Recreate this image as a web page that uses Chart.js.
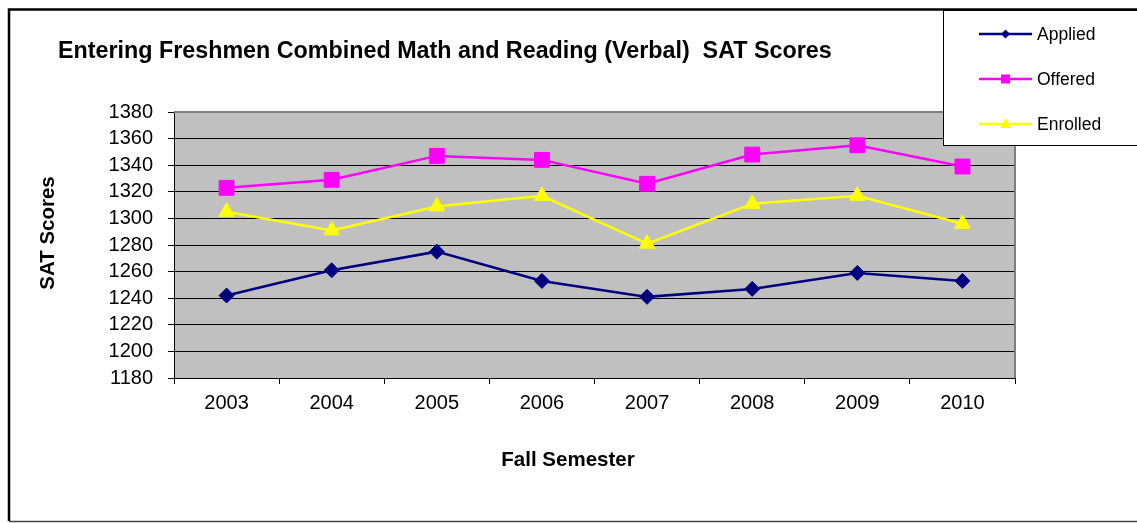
<!DOCTYPE html>
<html><head><meta charset="utf-8">
<script src="https://cdn.jsdelivr.net/npm/chart.js@4/dist/chart.umd.min.js"></script>
<style>html,body{margin:0;padding:0;background:#fff;}#wrap{position:relative;width:1137px;height:523px;}</style>
</head><body><div id="wrap"><canvas id="c" width="1137" height="523"></canvas></div>
<script>
const years = ['2003','2004','2005','2006','2007','2008','2009','2010'];
const applied  = [1242,1261,1275,1253,1241,1247,1259,1253];
const offered  = [1323,1329,1347,1344,1326,1348,1355,1339];
const enrolled = [1305,1291,1309,1317,1281,1311,1317,1296];
const yMin = 1180, yMax = 1380, yStep = 20;
const chartTitle = 'Entering Freshmen Combined Math and Reading (Verbal)  SAT Scores';
const xTitle = 'Fall Semester';
const yTitle = 'SAT Scores';
const seriesNames = ['Applied','Offered','Enrolled'];

const FONT = "'Liberation Sans', Arial, sans-serif";

const decor = {
  id: 'decor',
  beforeDraw(chart) {
    const {ctx, chartArea: a} = chart;
    ctx.save();
    ctx.fillStyle = '#fff';
    ctx.fillRect(0, 0, chart.width, chart.height);
    ctx.fillStyle = '#C0C0C0';
    ctx.fillRect(a.left, a.top, a.right - a.left, a.bottom - a.top);
    ctx.restore();
  },
  beforeDatasetsDraw(chart) {
    const {ctx, chartArea: a} = chart;
    ctx.save();
    ctx.strokeStyle = '#808080';
    ctx.lineWidth = 2;
    ctx.beginPath();
    ctx.moveTo(a.left, a.top);
    ctx.lineTo(a.right, a.top);
    ctx.lineTo(a.right, a.bottom);
    ctx.stroke();
    ctx.restore();
  },
  afterDraw(chart) {
    const {ctx} = chart;
    ctx.save();
    ctx.fillStyle = '#000';
    ctx.font = 'bold 23.3px ' + FONT;
    ctx.textAlign = 'left';
    ctx.textBaseline = 'alphabetic';
    ctx.fillText(chartTitle, 58, 58);
    ctx.font = 'bold 20.5px ' + FONT;
    ctx.textAlign = 'center';
    ctx.fillText(xTitle, 568, 466);
    ctx.save();
    ctx.translate(53.5, 233);
    ctx.rotate(-Math.PI / 2);
    ctx.fillText(yTitle, 0, 0);
    ctx.restore();
    ctx.strokeStyle = '#000';
    ctx.lineWidth = 2.5;
    ctx.beginPath();
    ctx.moveTo(9, 521);
    ctx.lineTo(9, 9.5);
    ctx.lineTo(1140, 9.5);
    ctx.stroke();
    ctx.strokeStyle = '#444';
    ctx.lineWidth = 1.5;
    ctx.beginPath();
    ctx.moveTo(9, 521.5);
    ctx.lineTo(1140, 521.5);
    ctx.stroke();
    ctx.fillStyle = '#fff';
    ctx.fillRect(943.5, 11, 200, 134.5);
    ctx.strokeStyle = '#000';
    ctx.lineWidth = 1;
    ctx.strokeRect(943.5, 10.5, 200, 135);
    const rows = [34, 79, 124];
    chart.data.datasets.forEach((ds, i) => {
      const y = rows[i];
      ctx.strokeStyle = ds.borderColor;
      ctx.lineWidth = 2.5;
      ctx.beginPath();
      ctx.moveTo(979, y);
      ctx.lineTo(1032, y);
      ctx.stroke();
      ctx.fillStyle = ds.backgroundColor;
      const cx = 1005.5;
      ctx.beginPath();
      if (ds.pointStyle === 'rectRot') {
        const r = 4.5;
        ctx.moveTo(cx, y - r); ctx.lineTo(cx + r, y); ctx.lineTo(cx, y + r); ctx.lineTo(cx - r, y);
      } else if (ds.pointStyle === 'rect') {
        ctx.rect(cx - 4.5, y - 4.5, 9, 9);
      } else {
        ctx.moveTo(cx, y - 6); ctx.lineTo(cx + 5.5, y + 4); ctx.lineTo(cx - 5.5, y + 4);
      }
      ctx.closePath();
      ctx.fill();
      ctx.fillStyle = '#000';
      ctx.font = '17.5px ' + FONT;
      ctx.textAlign = 'left';
      ctx.textBaseline = 'middle';
      ctx.fillText(ds.label, 1037, y + 1);
    });
    ctx.restore();
  }
};

new Chart(document.getElementById('c'), {
  type: 'line',
  data: {
    labels: years,
    datasets: [
      {label: seriesNames[0], data: applied, borderColor: '#000080', backgroundColor: '#000080',
       pointStyle: 'rectRot', pointRadius: 7.5, pointHoverRadius: 7.5, borderWidth: 2.5, pointBorderWidth: 1},
      {label: seriesNames[1], data: offered, borderColor: '#FF00FF', backgroundColor: '#FF00FF',
       pointStyle: 'rect', pointRadius: 10.5, pointHoverRadius: 10.5, borderWidth: 2.5, pointBorderWidth: 1},
      {label: seriesNames[2], data: enrolled, borderColor: '#FFFF00', backgroundColor: '#FFFF00',
       pointStyle: 'triangle', pointRadius: 9, pointHoverRadius: 9, borderWidth: 2.5, pointBorderWidth: 1}
    ]
  },
  options: {
    responsive: false,
    animation: false,
    devicePixelRatio: 1,
    layout: {padding: {left: 20, top: 112, right: 122, bottom: 0}},
    elements: {line: {tension: 0}},
    plugins: {legend: {display: false}, title: {display: false}, tooltip: {enabled: false}},
    scales: {
      x: {
        offset: true,
        grid: {offset: true, drawOnChartArea: false, drawTicks: true, tickLength: 6, color: '#000'},
        border: {display: true, color: '#000', width: 1},
        ticks: {color: '#000', font: {family: FONT, size: 20}, padding: 7, maxRotation: 0, autoSkip: false},
        afterFit(s) { s.height = 145; }
      },
      y: {
        min: yMin, max: yMax,
        grid: {color: '#000', lineWidth: 1, tickLength: 6, drawTicks: true},
        border: {display: true, color: '#000', width: 1},
        ticks: {stepSize: yStep, color: '#000', font: {family: FONT, size: 20}, padding: 15,
                autoSkip: false, callback: v => String(v)},
        afterFit(s) { s.width = 154; }
      }
    }
  },
  plugins: [decor]
});
</script></body></html>
